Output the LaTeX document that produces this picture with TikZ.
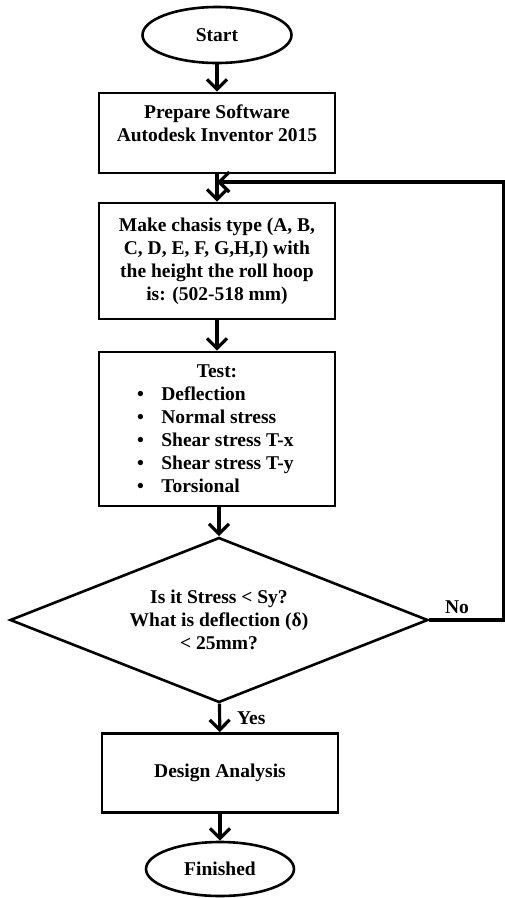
\documentclass[tikz,border=0pt]{standalone}
\usepackage{fontspec}
\setmainfont{Liberation Serif}
\usepackage{tikz}
\usetikzlibrary{
    positioning,
    arrows.meta,
    shapes.geometric
}
\newcommand{\testitem}[1]{\makebox[236pt][l]{\hspace{38pt}\textbullet\hspace{17.5pt}#1}}

\begin{document}
\begin{tikzpicture}[x=1pt, y=-1pt,
    txt/.style={font=\bfseries\fontsize{19.5}{23}\selectfont, align=center, inner sep=0pt},
    box/.style={txt, draw, line width=2.8pt, minimum width=236pt},
    term/.style={txt, draw, ellipse, line width=2.6pt},
    decision/.style={txt, draw, diamond, line width=2.6pt, aspect=2.53, minimum width=418pt, minimum height=165pt},
    arr/.style={-{Straight Barb[length=10pt, width=20pt]}, line width=3.2pt}]
            \useasboundingbox (0,0) rectangle (504,898);
            \node[term, minimum width=149pt, minimum height=56pt] (start) at (217,35) {Start};
            \node[box, minimum height=80pt] (prep) at (217,133) {Prepare Software\\Autodesk Inventor 2015\\[-4pt]\mbox{}};
            \node[box, minimum height=116pt] (make) at (217,261) {Make chasis type (A, B,\\C, D, E, F, G,H,I) with\\the height the roll hoop\\is: (502-518 mm)};
            \node[box, minimum height=154pt] (test) at (217,429) {Test:\\\testitem{Deflection}\\\testitem{Normal stress}\\\testitem{Shear stress T-x}\\\testitem{Shear stress T-y}\\\testitem{Torsional}};
            \node[decision] (check) at (219,620) {Is it Stress < Sy?\\What is deflection (δ)\\< 25mm?};
            \node[box, minimum height=79pt] (design) at (220,773) {Design Analysis};
            \node[term, minimum width=148pt, minimum height=54pt] (finish) at (220,869) {Finished};
            % 矢印
            \draw[arr] (start) -- (prep);
            \draw[arr] (prep) -- (make);
            \draw[arr] (make) -- (test);
            \draw[arr] (test.south -| check.north) -- (check.north);
            \draw[arr] (check) -- (design) node[midway, right=16pt, txt] {Yes};
            \draw[arr] (design) -- (finish);
            % 戻り線
            \coordinate (back) at (504,182);
            \draw[arr] (check.east) -- (back |- check.east) node[pos=0.37, above=5pt, txt] {No}
                -- (back) -- (prep.south |- back);
        \end{tikzpicture}
\end{document}
